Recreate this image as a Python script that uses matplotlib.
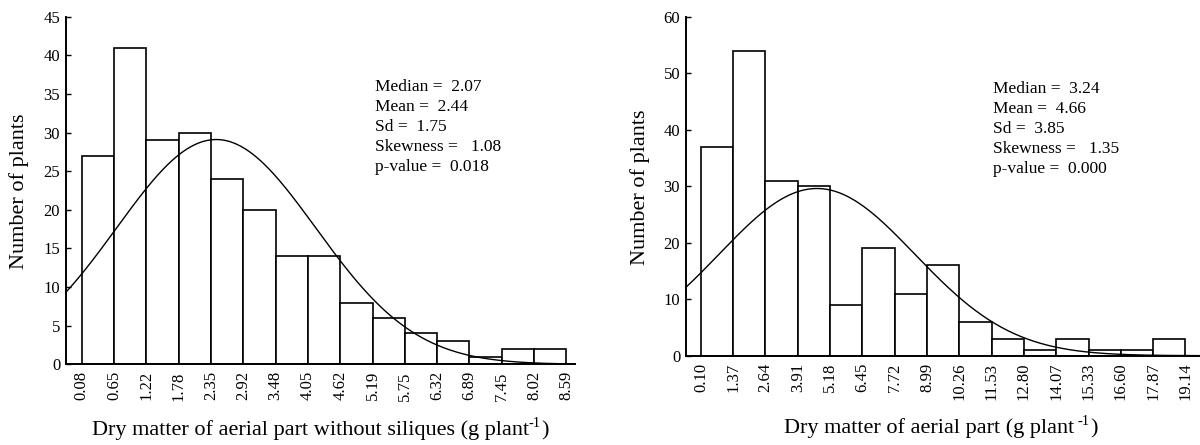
import matplotlib
matplotlib.use('Agg')
import matplotlib.pyplot as plt
import numpy as np

plt.rcParams['font.family'] = ['Liberation Serif', 'DejaVu Serif']

# left panel: dry matter without siliques
edges_a = ['0.08', '0.65', '1.22', '1.78', '2.35', '2.92', '3.48', '4.05',
           '4.62', '5.19', '5.75', '6.32', '6.89', '7.45', '8.02', '8.59']
counts_a = [27, 41, 29, 30, 24, 20, 14, 14, 8, 6, 4, 3, 1, 2, 2]
stats_a = ['Median =  2.07', 'Mean =  2.44', 'Sd =  1.75',
           'Skewness =   1.08', 'p-value =  0.018']
mean_a, sd_a = 2.44, 1.75

# right panel: dry matter of aerial part
edges_b = ['0.10', '1.37', '2.64', '3.91', '5.18', '6.45', '7.72', '8.99',
           '10.26', '11.53', '12.80', '14.07', '15.33', '16.60', '17.87', '19.14']
counts_b = [37, 54, 31, 30, 9, 19, 11, 16, 6, 3, 1, 3, 1, 1, 3]
stats_b = ['Median =  3.24', 'Mean =  4.66', 'Sd =  3.85',
           'Skewness =   1.35', 'p-value =  0.000']
mean_b, sd_b = 4.66, 3.85

W, H = 1200, 445
fig = plt.figure(figsize=(12, 4.45), dpi=100)
renderer = fig.canvas.get_renderer()


def label_with_sup(x, y, main, sup, tail, gap=0):
    # x label written as three pieces so the superscript keeps a plain hyphen
    t1 = fig.text(x / W, y / H, main, fontsize=16, ha='left', va='baseline')
    bb = t1.get_window_extent(renderer)
    x2 = bb.x1 + gap
    t2 = fig.text(x2 / W, (y + 8) / H, sup, fontsize=10.5, ha='left', va='baseline')
    bb2 = t2.get_window_extent(renderer)
    fig.text((bb2.x1 + 0.5) / W, y / H, tail, fontsize=16, ha='left', va='baseline')


def panel(rect, edges, counts, mean, sd, ymax, xlim, stats, txt_xy, ylab_xy):
    ax = fig.add_axes(rect)
    n = len(counts)
    ax.bar(np.arange(n), counts, width=1, align='edge', color='white',
           edgecolor='black', linewidth=1.2, zorder=2)
    # fitted normal curve, drawn in bin-index units
    lo, hi = float(edges[0]), float(edges[-1])
    bw = (hi - lo) / n
    xi = np.linspace(xlim[0], xlim[1], 400)
    v = lo + xi * bw
    total = sum(counts)
    y = total * bw / (sd * np.sqrt(2 * np.pi)) * np.exp(-0.5 * ((v - mean) / sd) ** 2)
    ax.plot(xi, y, color='black', linewidth=1.0, zorder=3, clip_on=False)
    ax.set_xlim(*xlim)
    ax.set_ylim(0, ymax)
    ax.set_xticks(np.arange(n + 1))
    ax.set_xticklabels(edges, rotation=90, fontsize=12)
    ax.set_yticks(np.arange(0, ymax + 1, 5 if ymax < 50 else 10))
    ax.tick_params(axis='x', length=0, pad=5)
    ax.tick_params(axis='y', direction='in', length=3.5, width=1, pad=4, labelsize=12)
    for s in ['top', 'right']:
        ax.spines[s].set_visible(False)
    for s in ['left', 'bottom']:
        ax.spines[s].set_linewidth(1.4)
    ax.text(txt_xy[0], txt_xy[1], '\n'.join(stats), transform=ax.transAxes,
            fontsize=12.5, va='top', ha='left', linespacing=1.34)
    fig.text(ylab_xy[0] / W, 1 - ylab_xy[1] / H, 'Number of plants', rotation=90,
             fontsize=16, ha='center', va='center')
    return ax


panel([65.7 / W, 1 - 364.3 / H, 509.3 / W, 347.6 / H], edges_a, counts_a,
      mean_a, sd_a, 45, (-0.5, 15.27), stats_a, (0.607, 0.822), (19, 191.5))
label_with_sup(91.7, 10, 'Dry matter of aerial part without siliques (g plant', '-1', ')')

panel([685.7 / W, 1 - 355.7 / H, 514.3 / W, 339 / H], edges_b, counts_b,
      mean_b, sd_b, 60, (-0.47, 15.45), stats_b, (0.5975, 0.81), (640, 187))
label_with_sup(784, 12, 'Dry matter of aerial part (g plant', '-1', ')', gap=3)

fig.savefig('out.png', dpi=100)
